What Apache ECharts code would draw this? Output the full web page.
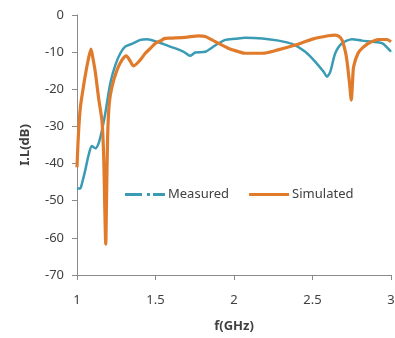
<!DOCTYPE html>
<html>
<head>
<meta charset="utf-8">
<script src="https://cdn.jsdelivr.net/npm/echarts@6/dist/echarts.min.js"></script>
<style>html,body{margin:0;padding:0;background:#fff}#c{width:395px;height:338px}</style>
</head>
<body>
<div id="c"></div>
<script>
var xTicks = [1, 1.5, 2, 2.5, 3];
var yTicks = [-70, -60, -50, -40, -30, -20, -10, 0];

var freqMeasured = [1.000,1.020,1.032,1.053,1.074,1.095,1.117,1.138,1.159,1.180,1.212,1.244,1.276,1.308,1.360,1.403,1.446,1.510,1.594,1.680,1.720,1.753,1.817,1.880,1.945,2.008,2.070,2.180,2.284,2.370,2.454,2.518,2.571,2.592,2.613,2.645,2.688,2.752,2.815,2.879,2.943,3.000];
var ilMeasured = [-46.7,-46.7,-45.3,-41.7,-37.7,-35.3,-35.9,-34.5,-31.0,-26.5,-18.4,-13.5,-10.3,-8.5,-7.6,-6.7,-6.5,-7.2,-8.5,-9.9,-11.0,-10.1,-9.9,-8.2,-6.7,-6.4,-6.1,-6.3,-6.9,-7.8,-9.9,-12.6,-15.3,-16.6,-15.3,-10.3,-7.6,-6.5,-6.9,-7.2,-7.6,-9.9];

var freqSimulated = [1.000,1.008,1.021,1.042,1.067,1.089,1.103,1.117,1.138,1.159,1.170,1.177,1.183,1.188,1.195,1.205,1.223,1.255,1.287,1.314,1.340,1.360,1.403,1.435,1.467,1.500,1.530,1.560,1.594,1.690,1.775,1.817,1.860,1.900,1.966,2.008,2.070,2.180,2.280,2.390,2.500,2.600,2.645,2.670,2.690,2.710,2.720,2.735,2.747,2.755,2.762,2.790,2.820,2.857,2.920,2.975,3.000];
var ilSimulated = [-41.0,-33.0,-25.0,-19.0,-13.0,-9.2,-12.0,-15.5,-22.5,-28.5,-38.0,-52.0,-61.7,-50.0,-33.0,-24.0,-19.3,-14.8,-12.1,-11.0,-12.5,-13.7,-12.1,-10.3,-9.0,-7.6,-7.0,-6.3,-6.2,-6.0,-5.6,-5.8,-6.7,-7.6,-9.0,-9.6,-10.3,-10.3,-9.4,-8.1,-6.5,-5.6,-5.4,-5.8,-6.9,-10.0,-12.5,-18.0,-22.9,-18.0,-13.9,-10.3,-8.8,-7.6,-6.6,-6.6,-7.2];

function zip(a, b) { return a.map(function (v, i) { return [v, b[i]]; }); }

var teal = '#3A9BB5';
var orange = '#E07B2C';
var font = 'Noto Sans';

var chart = echarts.init(document.getElementById('c'), null, {renderer: 'canvas'});
chart.setOption({
  animation: false,
  backgroundColor: '#fff',
  textStyle: {fontFamily: font},
  grid: {left: 77, right: 4, top: 15, bottom: 63, containLabel: false, outerBoundsMode: 'none'},
  legend: {
    left: 120, top: 183, itemGap: 20, itemWidth: 40, itemHeight: 3,
    textStyle: {fontFamily: font, fontSize: 13, color: '#404040', padding: [0, 0, 0, -2]},
    data: [
      {name: 'Measured', icon: 'path://M0,0h17v3h-17z M22,0h3v3h-3z M28,0h12v3h-12z', itemStyle: {color: teal}},
      {name: 'Simulated', icon: 'path://M0,0h40v3h-40z', itemStyle: {color: orange}}
    ]
  },
  xAxis: {
    type: 'value', min: xTicks[0], max: xTicks[xTicks.length - 1], interval: 0.5,
    name: 'f(GHz)', nameLocation: 'middle', nameGap: 45,
    nameTextStyle: {fontFamily: font, fontSize: 13, fontWeight: 'bold', color: '#404040'},
    axisLine: {onZero: false, lineStyle: {color: '#8A8A8A', width: 1}},
    axisTick: {show: true, inside: false, length: 5, lineStyle: {color: '#8A8A8A'}},
    axisLabel: {fontFamily: font, fontSize: 13, color: '#404040', margin: 19},
    splitLine: {show: false}
  },
  yAxis: {
    type: 'value', min: yTicks[0], max: yTicks[yTicks.length - 1], interval: 10,
    name: 'I.L(dB)', nameLocation: 'middle', nameGap: 45, nameRotate: 90,
    nameTextStyle: {fontFamily: font, fontSize: 13, fontWeight: 'bold', color: '#404040'},
    axisLine: {show: true, lineStyle: {color: '#8A8A8A', width: 1}},
    axisTick: {show: true, inside: false, length: 5, lineStyle: {color: '#8A8A8A'}},
    axisLabel: {fontFamily: font, fontSize: 13, color: '#404040', margin: 13},
    splitLine: {show: false}
  },
  series: [
    {
      name: 'Measured', type: 'line', data: zip(freqMeasured, ilMeasured),
      showSymbol: false, smooth: 0.25, lineStyle: {color: teal, width: 2.5}, itemStyle: {color: teal}, z: 2
    },
    {
      name: 'Simulated', type: 'line', data: zip(freqSimulated, ilSimulated),
      showSymbol: false, smooth: 0.25, lineStyle: {color: orange, width: 3.2}, itemStyle: {color: orange}, z: 3
    }
  ]
});
</script>
</body>
</html>
